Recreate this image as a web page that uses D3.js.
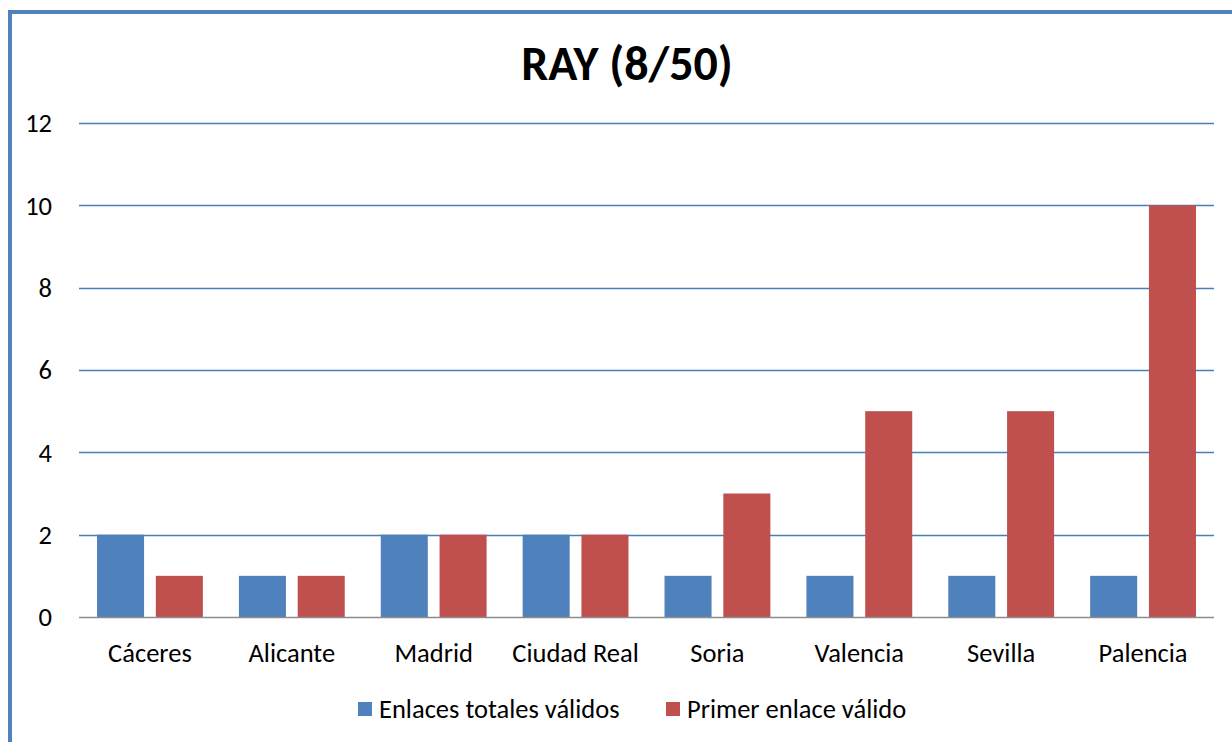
<!DOCTYPE html>
<html>
<head>
<meta charset="utf-8">
<script src="https://cdn.jsdelivr.net/npm/d3@7"></script>
<style>
  body { margin: 0; background: #fff; }
  svg { display: block; font-family: Carlito, "Open Sans", "Noto Sans", sans-serif; }
</style>
</head>
<body>
<div id="chart"></div>
<script>
// chart data
var cities = ["Cáceres", "Alicante", "Madrid", "Ciudad Real", "Soria", "Valencia", "Sevilla", "Palencia"];
var seriesNames = ["Enlaces totales válidos", "Primer enlace válido"];
var totalValid = [2, 1, 2, 2, 1, 1, 1, 1];
var firstValid = [1, 1, 2, 2, 3, 5, 5, 10];
var yTicks = [0, 2, 4, 6, 8, 10, 12];
var colors = ["#4f81bd", "#c0504d"];

var width = 1232, height = 742;
var margin = {left: 79, right: 18, top: 123, bottom: 124};

var svg = d3.select("#chart").append("svg")
    .attr("width", width)
    .attr("height", height);

// frame border (left and top visible)
svg.append("path")
    .attr("d", "M10," + height + " L10,12 L" + width + ",12")
    .attr("fill", "none")
    .attr("stroke", "#4f81bd")
    .attr("stroke-width", 4);

var x = d3.scaleBand()
    .domain(cities)
    .range([margin.left, width - margin.right])
    .paddingInner(0.254)
    .paddingOuter(0.127);

var x1 = d3.scaleBand()
    .domain(seriesNames)
    .range([0, x.bandwidth()])
    .paddingInner(0.2);

var y = d3.scaleLinear()
    .domain([0, 12])
    .range([height - margin.bottom - 1, margin.top]);

// gridlines
svg.append("g")
  .selectAll("line")
  .data(yTicks.filter(function(d) { return d > 0; }))
  .enter().append("line")
    .attr("x1", margin.left)
    .attr("x2", width - margin.right)
    .attr("y1", function(d) { return Math.round(y(d)) + 0.5; })
    .attr("y2", function(d) { return Math.round(y(d)) + 0.5; })
    .attr("stroke", "#4a7ebb")
    .attr("stroke-width", 1.3);

// y tick labels
svg.append("g")
  .selectAll("text")
  .data(yTicks)
  .enter().append("text")
    .attr("x", 52)
    .attr("y", function(d) { return y(d); })
    .attr("dy", "0.35em")
    .attr("text-anchor", "end")
    .style("font-size", "26.5px")
    .text(function(d) { return d; });

// bars
var rows = cities.map(function(c, i) {
  return {city: c, values: [totalValid[i], firstValid[i]]};
});

var groups = svg.append("g")
  .selectAll("g")
  .data(rows)
  .enter().append("g")
    .attr("transform", function(d) { return "translate(" + x(d.city) + ",0)"; });

groups.selectAll("rect")
    .data(function(d) { return d.values.map(function(v, j) { return {name: seriesNames[j], value: v, j: j}; }); })
  .enter().append("rect")
    .attr("x", function(d) { return x1(d.name); })
    .attr("width", x1.bandwidth())
    .attr("y", function(d) { return y(d.value); })
    .attr("height", function(d) { return y(0) - y(d.value); })
    .attr("fill", function(d) { return colors[d.j]; });

// x axis line
svg.append("line")
    .attr("x1", margin.left)
    .attr("x2", width - margin.right)
    .attr("y1", Math.round(y(0)) + 0.5)
    .attr("y2", Math.round(y(0)) + 0.5)
    .attr("stroke", "#8c8c8c")
    .attr("stroke-width", 1.3);

// x labels
svg.append("g")
  .selectAll("text")
  .data(cities)
  .enter().append("text")
    .attr("x", function(d) { return x(d) + x.bandwidth() / 2; })
    .attr("y", 662)
    .attr("text-anchor", "middle")
    .style("font-size", "26.5px")
    .text(function(d) { return d; });

// title
svg.append("text")
    .attr("x", 627)
    .attr("y", 80)
    .attr("text-anchor", "middle")
    .style("font-size", "48px")
    .style("font-weight", "bold")
    .text("RAY (8/50)");

// legend
var legendX = [358, 666];
var legend = svg.append("g")
  .selectAll("g")
  .data(seriesNames)
  .enter().append("g")
    .attr("transform", function(d, i) { return "translate(" + legendX[i] + ",702)"; });

legend.append("rect")
    .attr("width", 14)
    .attr("height", 14)
    .attr("fill", function(d, i) { return colors[i]; });

legend.append("text")
    .attr("x", 21)
    .attr("y", 7)
    .attr("dy", "0.35em")
    .style("font-size", "26.5px")
    .text(function(d) { return d; });
</script>
</body>
</html>
